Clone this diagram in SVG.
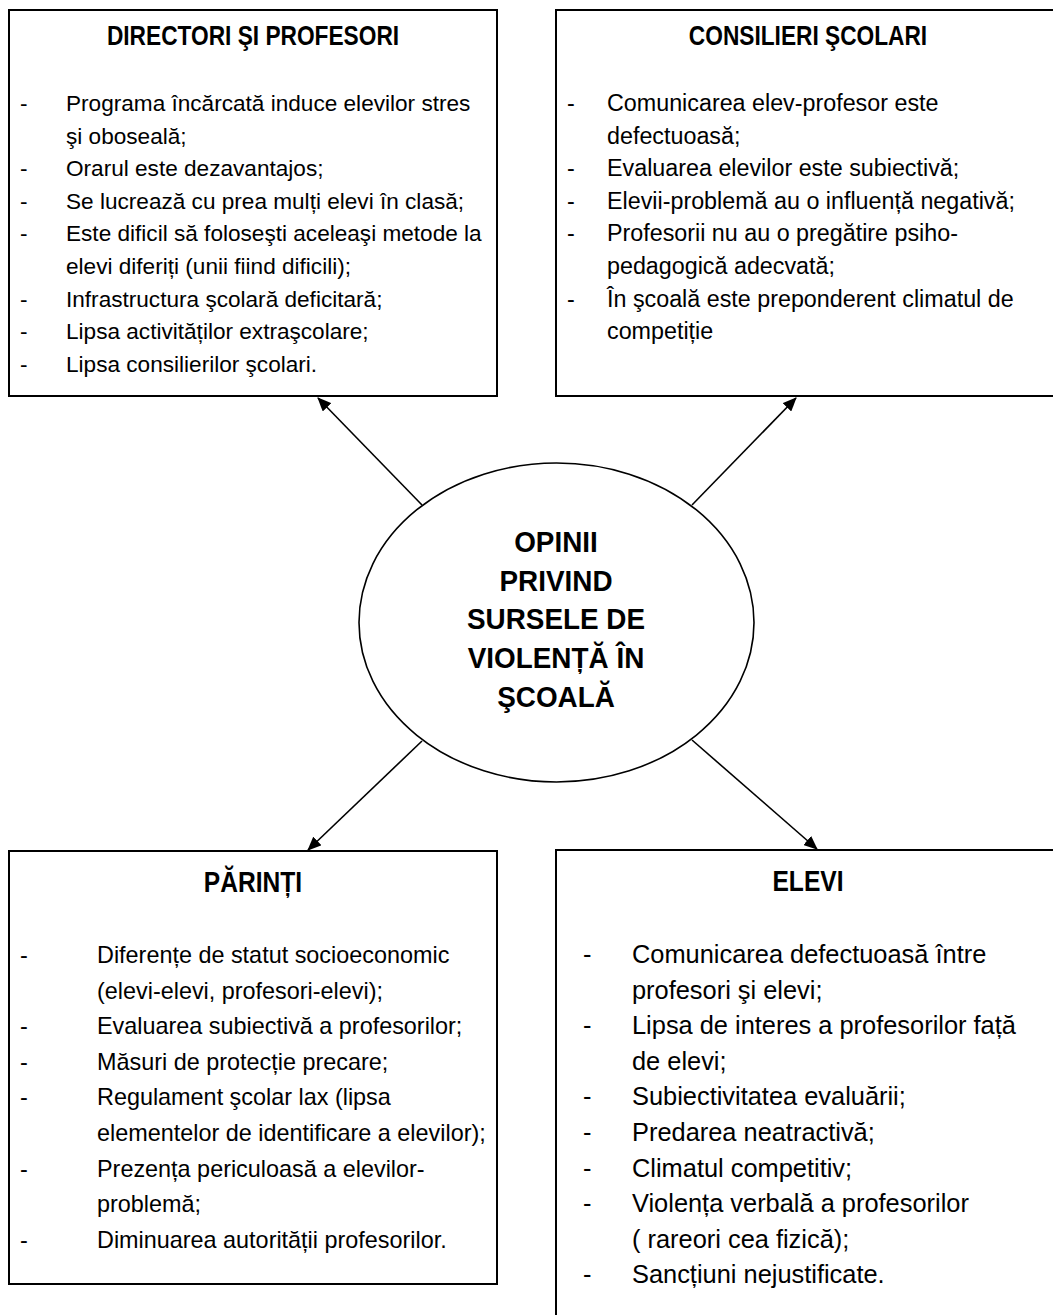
<svg xmlns="http://www.w3.org/2000/svg" width="1053" height="1315" viewBox="0 0 1053 1315">
<style>
.box{fill:#fff;stroke:#000;stroke-width:2}
.ell{fill:#fff;stroke:#000;stroke-width:1.6}
.con{fill:none;stroke:#000;stroke-width:1.6}
text{font-family:"Liberation Sans",Arial,sans-serif;fill:#000}
.t{font-weight:bold;font-size:27.7px;text-anchor:middle}
.tb{font-weight:bold;font-size:30px;text-anchor:middle}
.b1{font-size:22.6px}
.b2{font-size:23.3px}
.b3{font-size:23.4px}
.b4{font-size:25.4px}
.c{font-weight:bold;font-size:30.3px;text-anchor:middle}
</style>
<defs>
<marker id="ah" markerWidth="14" markerHeight="12" refX="13" refY="6" orient="auto" markerUnits="userSpaceOnUse">
<path d="M0,0 L14,6 L0,12 z" fill="#000"/>
</marker>
</defs>
<rect width="1053" height="1315" fill="#fff"/>
<g id="connectors">
<line class="con" x1="422" y1="505" x2="318" y2="398" marker-end="url(#ah)"/>
<line class="con" x1="692" y1="505" x2="796" y2="398" marker-end="url(#ah)"/>
<line class="con" x1="422" y1="741" x2="308" y2="850" marker-end="url(#ah)"/>
<line class="con" x1="692" y1="740" x2="817" y2="849" marker-end="url(#ah)"/>
</g>
<g id="directori">
<rect class="box" x="9" y="10" width="488" height="386"/>
<text class="t" transform="translate(253,45) scale(0.82,1)">DIRECTORI ŞI PROFESORI</text>
<g class="b1">
<text x="20" y="111">-</text><text x="66" y="111">Programa încărcată induce elevilor stres</text>
<text x="66" y="143.6">şi oboseală;</text>
<text x="20" y="176.2">-</text><text x="66" y="176.2">Orarul este dezavantajos;</text>
<text x="20" y="208.8">-</text><text x="66" y="208.8">Se lucrează cu prea mulți elevi în clasă;</text>
<text x="20" y="241.4">-</text><text x="66" y="241.4">Este dificil să foloseşti aceleaşi metode la</text>
<text x="66" y="274">elevi diferiți (unii fiind dificili);</text>
<text x="20" y="306.6">-</text><text x="66" y="306.6">Infrastructura şcolară deficitară;</text>
<text x="20" y="339.2">-</text><text x="66" y="339.2">Lipsa activităților extraşcolare;</text>
<text x="20" y="371.8">-</text><text x="66" y="371.8">Lipsa consilierilor şcolari.</text>
</g>
</g>
<g id="consilieri">
<rect class="box" x="556" y="10" width="510" height="386"/>
<text class="t" transform="translate(808,45) scale(0.82,1)">CONSILIERI ŞCOLARI</text>
<g class="b2">
<text x="567" y="111">-</text><text x="607" y="111">Comunicarea elev-profesor este</text>
<text x="607" y="143.6">defectuoasă;</text>
<text x="567" y="176.2">-</text><text x="607" y="176.2">Evaluarea elevilor este subiectivă;</text>
<text x="567" y="208.8">-</text><text x="607" y="208.8">Elevii-problemă au o influență negativă;</text>
<text x="567" y="241.4">-</text><text x="607" y="241.4">Profesorii nu au o pregătire psiho-</text>
<text x="607" y="274">pedagogică adecvată;</text>
<text x="567" y="306.6">-</text><text x="607" y="306.6">În şcoală este preponderent climatul de</text>
<text x="607" y="339.2">competiție</text>
</g>
</g>
<g id="center">
<ellipse class="ell" cx="556.5" cy="622.5" rx="197.5" ry="159.5"/>
<text class="c" transform="translate(556,552) scale(0.92,1)">OPINII</text>
<text class="c" transform="translate(556,591) scale(0.92,1)">PRIVIND</text>
<text class="c" transform="translate(556,629) scale(0.92,1)">SURSELE DE</text>
<text class="c" transform="translate(556,668) scale(0.92,1)">VIOLENȚĂ ÎN</text>
<text class="c" transform="translate(556,707) scale(0.92,1)">ŞCOALĂ</text>
</g>
<g id="parinti">
<rect class="box" x="9" y="851" width="488" height="433"/>
<text class="tb" transform="translate(253,892) scale(0.82,1)">PĂRINȚI</text>
<g class="b3">
<text x="20" y="963">-</text><text x="97" y="963">Diferențe de statut socioeconomic</text>
<text x="97" y="998.6">(elevi-elevi, profesori-elevi);</text>
<text x="20" y="1034.2">-</text><text x="97" y="1034.2">Evaluarea subiectivă a profesorilor;</text>
<text x="20" y="1069.8">-</text><text x="97" y="1069.8">Măsuri de protecție precare;</text>
<text x="20" y="1105.4">-</text><text x="97" y="1105.4">Regulament şcolar lax (lipsa</text>
<text x="97" y="1141">elementelor de identificare a elevilor);</text>
<text x="20" y="1176.6">-</text><text x="97" y="1176.6">Prezența periculoasă a elevilor-</text>
<text x="97" y="1212.2">problemă;</text>
<text x="20" y="1247.8">-</text><text x="97" y="1247.8">Diminuarea autorității profesorilor.</text>
</g>
</g>
<g id="elevi">
<rect class="box" x="556" y="850" width="510" height="480"/>
<text class="tb" transform="translate(808,891) scale(0.82,1)">ELEVI</text>
<g class="b4">
<text x="583" y="963">-</text><text x="632" y="963">Comunicarea defectuoasă între</text>
<text x="632" y="998.6">profesori şi elevi;</text>
<text x="583" y="1034.2">-</text><text x="632" y="1034.2">Lipsa de interes a profesorilor față</text>
<text x="632" y="1069.8">de elevi;</text>
<text x="583" y="1105.4">-</text><text x="632" y="1105.4">Subiectivitatea evaluării;</text>
<text x="583" y="1141">-</text><text x="632" y="1141">Predarea neatractivă;</text>
<text x="583" y="1176.6">-</text><text x="632" y="1176.6">Climatul competitiv;</text>
<text x="583" y="1212.2">-</text><text x="632" y="1212.2">Violența verbală a profesorilor</text>
<text x="632" y="1247.8">( rareori cea fizică);</text>
<text x="583" y="1283.4">-</text><text x="632" y="1283.4">Sancțiuni nejustificate.</text>
</g>
</g>
</svg>
